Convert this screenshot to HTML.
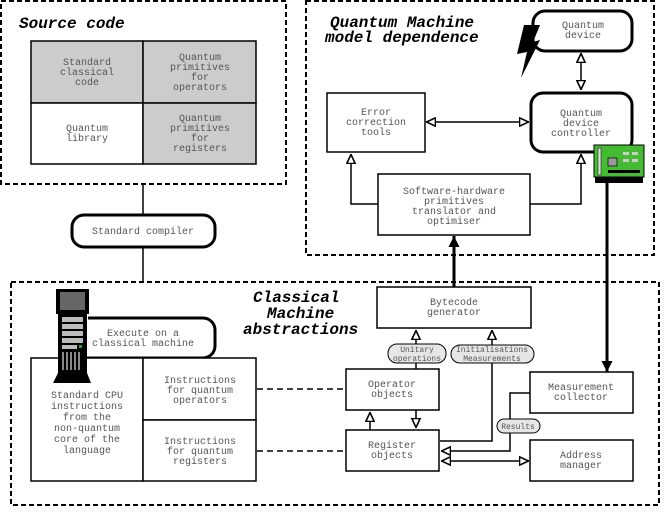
<!DOCTYPE html>
<html><head><style>
body{margin:0;background:#fff}
svg text{font-family:"Liberation Mono",monospace;font-size:10px;fill:#555}
.t{font-family:"Liberation Mono",monospace;font-size:16px;font-weight:bold;font-style:italic;fill:#000 !important}
</style></head><body>
<svg width="664" height="508" viewBox="0 0 664 508" xmlns="http://www.w3.org/2000/svg">
<defs>
<marker id="h" viewBox="0 0 10 10" refX="10" refY="5" markerWidth="10" markerHeight="10" markerUnits="userSpaceOnUse" orient="auto-start-reverse"><path d="M0.5,0.8 L9.5,5 L0.5,9.2 Z" fill="#fff" stroke="#000" stroke-width="1.6"/></marker>
<marker id="f" viewBox="0 0 10 10" refX="10" refY="5" markerWidth="11" markerHeight="12" markerUnits="userSpaceOnUse" orient="auto"><path d="M0,0 L10,5 L0,10 Z" fill="#000"/></marker>
</defs>
<g fill="none" stroke="#000" stroke-width="2" stroke-dasharray="5,3">
<rect x="1" y="1" width="285" height="183"/>
<rect x="306" y="1" width="348" height="254"/>
<rect x="11" y="282" width="648" height="223"/>
</g>
<text class="t" x="19" y="28">Source code</text>
<text class="t" x="330" y="27">Quantum Machine</text>
<text class="t" x="325" y="42">model dependence</text>
<text class="t" x="253" y="302">Classical</text>
<text class="t" x="267" y="318">Machine</text>
<text class="t" x="243" y="334">abstractions</text>
<g stroke="#000" stroke-width="1.5">
<rect x="31" y="41" width="112" height="62" fill="#ccc"/>
<rect x="143" y="41" width="113" height="62" fill="#ccc"/>
<rect x="31" y="103" width="112" height="61" fill="#fff"/>
<rect x="143" y="103" width="113" height="61" fill="#ccc"/>
</g>
<g text-anchor="middle">
<text x="87" y="65">Standard</text><text x="87" y="75">classical</text><text x="87" y="85">code</text>
<text x="200" y="60">Quantum</text><text x="200" y="70">primitives</text><text x="200" y="80">for</text><text x="200" y="90">operators</text>
<text x="87" y="131">Quantum</text><text x="87" y="141">library</text>
<text x="200" y="121">Quantum</text><text x="200" y="131">primitives</text><text x="200" y="141">for</text><text x="200" y="151">registers</text>
</g>
<line x1="143" y1="184" x2="143" y2="282" stroke="#000" stroke-width="1.5"/>
<rect x="72" y="215" width="143" height="32" rx="12" fill="#fff" stroke="#000" stroke-width="3"/>
<text x="143" y="234" text-anchor="middle">Standard compiler</text>
<rect x="533" y="11" width="99" height="40" rx="12" fill="#fff" stroke="#000" stroke-width="3"/>
<text x="583" y="28" text-anchor="middle">Quantum</text><text x="583" y="38" text-anchor="middle">device</text>
<path d="M524,25 L540,25 L533,42 L540,40 L521,78 L527,52 L517,54 Z" fill="#000"/>
<line x1="581" y1="53" x2="581" y2="90" stroke="#000" stroke-width="1.5" marker-start="url(#h)" marker-end="url(#h)"/>
<rect x="531" y="93" width="101" height="59" rx="12" fill="#fff" stroke="#000" stroke-width="3"/>
<g text-anchor="middle"><text x="581" y="116">Quantum</text><text x="581" y="126">device</text><text x="581" y="136">controller</text></g>
<rect x="327" y="93" width="98" height="59" fill="#fff" stroke="#000" stroke-width="1.5"/>
<g text-anchor="middle"><text x="376" y="115">Error</text><text x="376" y="125">correction</text><text x="376" y="135">tools</text></g>
<line x1="426" y1="122" x2="529" y2="122" stroke="#000" stroke-width="1.5" marker-start="url(#h)" marker-end="url(#h)"/>
<rect x="378" y="174" width="152" height="61" fill="#fff" stroke="#000" stroke-width="1.5"/>
<g text-anchor="middle"><text x="454" y="194">Software-hardware</text><text x="454" y="204">primitives</text><text x="454" y="214">translator and</text><text x="454" y="224">optimiser</text></g>
<polyline points="378,204 351,204 351,154" fill="none" stroke="#000" stroke-width="1.5" marker-end="url(#h)"/>
<polyline points="530,204 581,204 581,154" fill="none" stroke="#000" stroke-width="1.5" marker-end="url(#h)"/>
<rect x="594" y="145" width="50" height="32" fill="#44bb33" stroke="#000" stroke-width="1"/>
<rect x="595" y="177" width="48" height="6" fill="#000"/>
<rect x="598" y="148" width="3" height="27" fill="#ddd" stroke="#000" stroke-width="0.5"/>
<rect x="608" y="158" width="9" height="8" fill="#999" stroke="#000" stroke-width="0.7"/>
<rect x="623" y="152" width="6" height="3" fill="#ccc"/><rect x="632" y="152" width="6" height="3" fill="#ccc"/>
<rect x="623" y="159" width="6" height="3" fill="#ccc"/><rect x="632" y="159" width="6" height="3" fill="#ccc"/>
<rect x="608" y="170" width="32" height="3" fill="#000"/>
<line x1="454" y1="287" x2="454" y2="236" stroke="#000" stroke-width="3" marker-end="url(#f)"/>
<line x1="607" y1="183" x2="607" y2="372" stroke="#000" stroke-width="3" marker-end="url(#f)"/>
<rect x="377" y="287" width="154" height="41" fill="#fff" stroke="#000" stroke-width="1.5"/>
<text x="454" y="305" text-anchor="middle">Bytecode</text><text x="454" y="315" text-anchor="middle">generator</text>
<line x1="416" y1="369" x2="416" y2="330" stroke="#000" stroke-width="1.5" marker-end="url(#h)"/>
<polyline points="440,441 492,441 492,330" fill="none" stroke="#000" stroke-width="1.5" marker-end="url(#h)"/>
<rect x="388" y="344" width="58" height="19" rx="9" fill="#e6e6e6" stroke="#000" stroke-width="1"/>
<text x="417" y="352" text-anchor="middle" style="font-size:8px">Unitary</text><text x="417" y="361" text-anchor="middle" style="font-size:8px">operations</text>
<rect x="451" y="345" width="83" height="18" rx="9" fill="#e6e6e6" stroke="#000" stroke-width="1"/>
<text x="492" y="352" text-anchor="middle" style="font-size:8px">Initialisations</text><text x="492" y="361" text-anchor="middle" style="font-size:8px">Measurements</text>
<rect x="346" y="369" width="93" height="41" fill="#fff" stroke="#000" stroke-width="1.5"/>
<text x="392" y="387" text-anchor="middle">Operator</text><text x="392" y="397" text-anchor="middle">objects</text>
<rect x="346" y="430" width="93" height="41" fill="#fff" stroke="#000" stroke-width="1.5"/>
<text x="392" y="448" text-anchor="middle">Register</text><text x="392" y="458" text-anchor="middle">objects</text>
<line x1="370" y1="430" x2="370" y2="412" stroke="#000" stroke-width="1.5" marker-end="url(#h)"/>
<line x1="416" y1="410" x2="416" y2="428" stroke="#000" stroke-width="1.5" marker-end="url(#h)"/>
<rect x="530" y="372" width="103" height="41" fill="#fff" stroke="#000" stroke-width="1.5"/>
<text x="581" y="390" text-anchor="middle">Measurement</text><text x="581" y="400" text-anchor="middle">collector</text>
<rect x="530" y="440" width="103" height="41" fill="#fff" stroke="#000" stroke-width="1.5"/>
<text x="581" y="458" text-anchor="middle">Address</text><text x="581" y="468" text-anchor="middle">manager</text>
<polyline points="530,393 510,393 510,451 441,451" fill="none" stroke="#000" stroke-width="1.5" marker-end="url(#h)"/>
<rect x="497" y="419" width="43" height="14" rx="7" fill="#e6e6e6" stroke="#000" stroke-width="1"/>
<text x="518" y="429" text-anchor="middle" style="font-size:8px">Results</text>
<line x1="441" y1="461" x2="529" y2="461" stroke="#000" stroke-width="1.5" marker-start="url(#h)" marker-end="url(#h)"/>
<rect x="70" y="318" width="145" height="40" rx="12" fill="#fff" stroke="#000" stroke-width="3"/>
<text x="143" y="336" text-anchor="middle">Execute on a</text><text x="143" y="346" text-anchor="middle">classical machine</text>
<rect x="60" y="316" width="28" height="40" fill="#fff"/>
<g stroke="#000" stroke-width="1.5" fill="#fff">
<rect x="31" y="358" width="112" height="123"/>
<rect x="143" y="358" width="113" height="62"/>
<rect x="143" y="420" width="113" height="61"/>
</g>
<g text-anchor="middle">
<text x="87" y="398">Standard CPU</text><text x="87" y="409">instructions</text><text x="87" y="420">from the</text><text x="87" y="431">non-quantum</text><text x="87" y="442">core of the</text><text x="87" y="453">language</text>
<text x="200" y="383">Instructions</text><text x="200" y="393">for quantum</text><text x="200" y="403">operators</text>
<text x="200" y="444">Instructions</text><text x="200" y="454">for quantum</text><text x="200" y="464">registers</text>
</g>
<g stroke="#000" stroke-width="1.5" stroke-dasharray="6,4">
<line x1="257" y1="389" x2="346" y2="389"/><line x1="257" y1="451" x2="346" y2="451"/>
</g>
<rect x="56" y="289" width="33" height="25" fill="#000"/>
<rect x="60" y="292" width="25" height="18" fill="#666"/>
<rect x="58" y="313" width="29" height="60" fill="#000"/>
<g fill="#bbb"><rect x="62" y="317" width="21" height="5"/><rect x="62" y="324" width="21" height="5"/><rect x="62" y="331" width="21" height="5"/><rect x="62" y="338" width="21" height="5"/><rect x="62" y="345" width="15" height="4"/></g>
<rect x="79" y="345" width="3" height="3" fill="#2a2"/>
<g fill="#888"><rect x="62" y="352" width="2" height="18"/><rect x="66" y="352" width="2" height="18"/><rect x="70" y="352" width="2" height="18"/><rect x="74" y="352" width="2" height="18"/><rect x="78" y="352" width="2" height="18"/></g>
<path d="M58,373 L87,373 L91,383 L53,383 Z" fill="#000"/>
</svg>
</body></html>
